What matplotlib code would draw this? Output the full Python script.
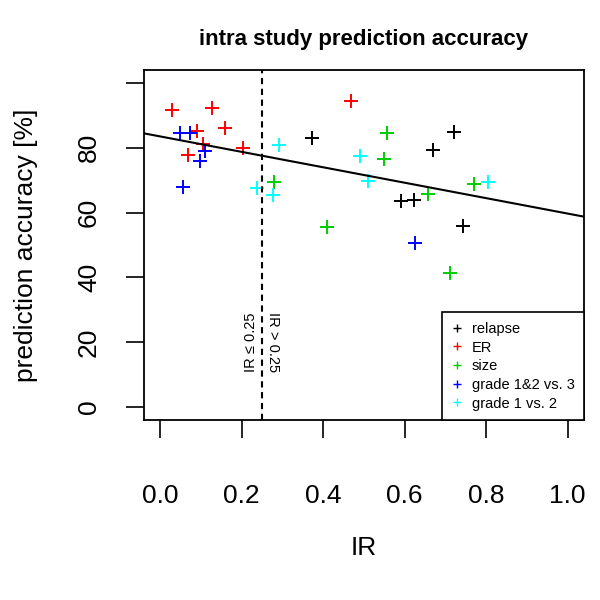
import matplotlib
matplotlib.use("Agg")
import matplotlib.pyplot as plt

plt.rcParams['font.family'] = ['Liberation Sans', 'DejaVu Sans']

# ---- data (IR, prediction accuracy %) ----
groups = ['relapse', 'ER', 'size', 'grade 1&2 vs. 3', 'grade 1 vs. 2']
colors = ['black', '#FF0000', '#00CD00', '#0000FF', '#00FFFF']

relapse_ir = [0.373, 0.722, 0.670, 0.590, 0.622, 0.742]
relapse_acc = [83.0, 84.8, 79.4, 63.5, 64.0, 55.8]

er_ir = [0.029, 0.127, 0.159, 0.090, 0.105, 0.067, 0.204, 0.468]
er_acc = [91.8, 92.2, 86.1, 85.1, 81.2, 77.9, 79.8, 94.4]

size_ir = [0.279, 0.409, 0.557, 0.549, 0.770, 0.656, 0.710]
size_acc = [69.4, 55.6, 84.5, 76.4, 68.9, 65.8, 41.5]

grade123_ir = [0.049, 0.072, 0.110, 0.098, 0.055, 0.624]
grade123_acc = [84.5, 84.5, 79.1, 75.8, 67.8, 50.7]

grade12_ir = [0.292, 0.238, 0.277, 0.490, 0.511, 0.804]
grade12_acc = [80.9, 67.5, 65.5, 77.6, 69.9, 69.4]

# linear fit shown in the chart
fit_intercept = 83.5
fit_slope = -23.8
ir_cutoff = 0.25

xticks = [0.0, 0.2, 0.4, 0.6, 0.8, 1.0]
yticks = [0, 20, 40, 60, 80, 100]
ytick_labels = ['0', '20', '40', '60', '80', '']

series_ir = [relapse_ir, er_ir, size_ir, grade123_ir, grade12_ir]
series_acc = [relapse_acc, er_acc, size_acc, grade123_acc, grade12_acc]

# ---- plot ----
fig = plt.figure(figsize=(6, 6), dpi=100)
ax = fig.add_axes([0.24, 0.30, 0.7333, 0.5833])

for ir, acc, col, name in zip(series_ir, series_acc, colors, groups):
    ax.plot(ir, acc, linestyle='none', marker='+', color=col,
            markersize=10, markeredgewidth=1.4, label=name)

ax.axline((0, fit_intercept), slope=fit_slope, color='black', linewidth=1.5)
ax.axvline(ir_cutoff, color='black', linewidth=1.5, dashes=(3, 2.2))

# labels either side of the cutoff line
ax.annotate('IR \u2264 0.25', xy=(ir_cutoff, 20), xytext=(-3, 0),
            textcoords='offset points', rotation=90,
            ha='right', va='center', fontsize=10.5)
ax.annotate('IR > 0.25', xy=(ir_cutoff, 20), xytext=(2.5, 0),
            textcoords='offset points', rotation=-90,
            ha='left', va='center', fontsize=10.5)

ax.set_xlim(-0.04, 1.04)
ax.set_ylim(-4, 104)
ax.set_xticks(xticks)
ax.set_xticklabels([f'{t:.1f}' for t in xticks])
ax.set_yticks(yticks)
ax.set_yticklabels(ytick_labels, rotation=90, va='center')
ax.tick_params(axis='both', length=13, width=1.2, labelsize=19)
ax.tick_params(axis='x', pad=33)
ax.tick_params(axis='y', pad=18)
for sp in ax.spines.values():
    sp.set_linewidth(1.3)

ax.set_xlabel('IR', fontsize=19, labelpad=20)
ax.set_ylabel('prediction accuracy [%]', fontsize=19, labelpad=28)
ax.set_title('intra study prediction accuracy', fontsize=16,
             fontweight='bold', pad=18)

leg = ax.legend(loc='lower right', borderaxespad=0, fontsize=10.5,
                handlelength=0.8, handletextpad=0.6, labelspacing=0.32,
                markerscale=0.55, fancybox=False, framealpha=1,
                borderpad=0.65, edgecolor='black')
leg.get_frame().set_linewidth(1.2)
for h in leg.legend_handles:
    h.set_markeredgewidth(1.0)

fig.savefig('out.png', dpi=100)
